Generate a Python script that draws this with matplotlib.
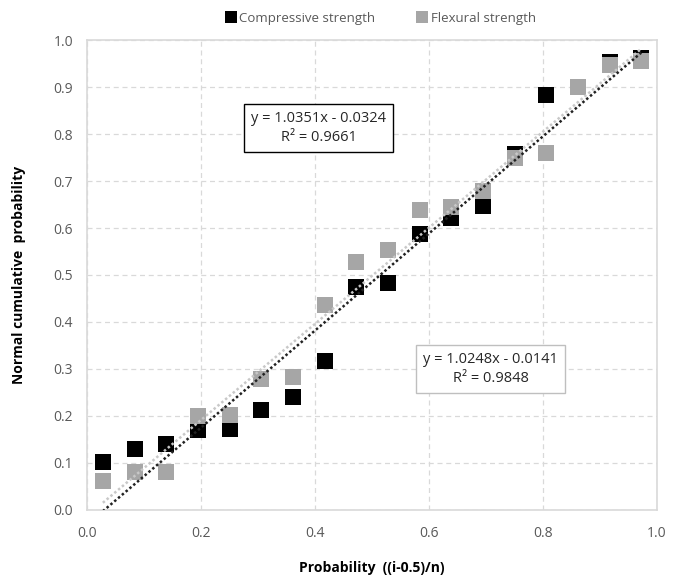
import numpy as np
import matplotlib.pyplot as plt

plt.rcParams['font.family'] = ['Open Sans', 'DejaVu Sans']

# probability positions (i-0.5)/n, n = 18
n = 18
prob = (np.arange(1, n + 1) - 0.5) / n

compressive = [0.102, 0.129, 0.140, 0.169, 0.171, 0.213, 0.239, 0.316, 0.475,
               0.483, 0.588, 0.622, 0.647, 0.757, 0.884, 0.900, 0.954, 0.963]
flexural = [0.060, 0.079, 0.079, 0.200, 0.202, 0.279, 0.283, 0.436, 0.528,
            0.553, 0.638, 0.646, 0.680, 0.750, 0.761, 0.900, 0.947, 0.957]

# trendline coefficients as printed on the chart
comp_fit = (1.0351, -0.0324, 0.9661)
flex_fit = (1.0248, -0.0141, 0.9848)

black = '#000000'
gray = '#a6a6a6'
tick_col = '#595959'
grid_col = '#d9d9d9'

fig = plt.figure(figsize=(6.73, 5.78), dpi=100)
ax = fig.add_axes([0.1293, 0.1185, 0.8470, 0.8115])

ax.plot(prob, compressive, 's', color=black, ms=11, mec=black, mew=0,
        label='Compressive strength', zorder=3)
ax.plot(prob, flexural, 's', color=gray, ms=11, mec=gray, mew=0,
        label='Flexural strength', zorder=3)

xs = np.linspace(prob[0], prob[-1], 200)
ax.plot(xs, flex_fit[0] * xs + flex_fit[1], color='#c8c8c8', lw=1.8,
        ls=(0, (1, 1)), zorder=4)
ax.plot(xs, comp_fit[0] * xs + comp_fit[1], color='#222222', lw=1.8,
        ls=(0, (1, 1)), zorder=5)

ax.set_xlim(0, 1)
ax.set_ylim(0, 1)
ax.set_xticks(np.arange(0, 1.01, 0.2))
ax.set_yticks(np.arange(0, 1.01, 0.1))
ax.xaxis.set_major_formatter(plt.FormatStrFormatter('%.1f'))
ax.yaxis.set_major_formatter(plt.FormatStrFormatter('%.1f'))
ax.tick_params(length=0, labelsize=10, labelcolor=tick_col)
ax.tick_params(axis='x', pad=12)
ax.tick_params(axis='y', pad=10)
ax.grid(True, color=grid_col, ls=(0, (4, 3)), lw=0.9)
ax.set_axisbelow(True)
for s in ax.spines.values():
    s.set_color(grid_col)
    s.set_linewidth(1.2)

ax.set_xlabel('Probability  ((i-0.5)/n)', fontsize=10, fontweight='bold',
              labelpad=14)
ax.set_ylabel('Normal cumulative  probability', fontsize=10,
              fontweight='bold', labelpad=20)

ax.text(0.406, 0.813,
        'y = %.4fx - %.4f\nR² = %.4f' % (comp_fit[0], -comp_fit[1], comp_fit[2]),
        ha='center', va='center', fontsize=10.5, color='#262626',
        linespacing=1.35,
        bbox=dict(boxstyle='square,pad=0.5', fc='white', ec='#000000', lw=1),
        zorder=6)
ax.text(0.708, 0.30,
        'y = %.4fx - %.4f\nR² = %.4f' % (flex_fit[0], -flex_fit[1], flex_fit[2]),
        ha='center', va='center', fontsize=10.5, color='#262626',
        linespacing=1.35,
        bbox=dict(boxstyle='square,pad=0.5', fc='white', ec='#bfbfbf', lw=1),
        zorder=6)

fig.legend(loc='center', bbox_to_anchor=(0.566, 0.968), ncol=2, frameon=False,
           fontsize=9.5, labelcolor=tick_col, markerscale=0.75,
           handlelength=0.7, handletextpad=0.3, columnspacing=3.2)

fig.savefig('out.png', dpi=100)
